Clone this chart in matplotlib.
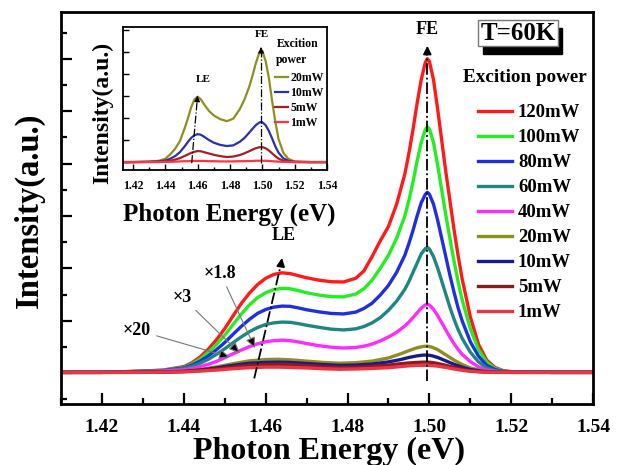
import matplotlib
matplotlib.use('Agg')
import matplotlib.pyplot as plt
from matplotlib.patches import Rectangle
from matplotlib.ticker import MultipleLocator, FormatStrFormatter

plt.rcParams['font.family'] = ['Liberation Serif', 'DejaVu Serif']
plt.rcParams['font.weight'] = 'bold'

# ---- main spectra (T = 60K), intensity in arbitrary units ----
# high power curves, finer energy grid
energy_hi = [1.410, 1.420, 1.430, 1.435, 1.440, 1.442, 1.444, 1.446, 1.448, 1.450,
             1.452, 1.454, 1.456, 1.458, 1.460, 1.462, 1.464, 1.466, 1.468, 1.470,
             1.473, 1.476, 1.479, 1.482, 1.484, 1.486, 1.488, 1.490, 1.492, 1.494,
             1.495, 1.496, 1.497, 1.498, 1.499, 1.4995, 1.500, 1.501, 1.502, 1.503,
             1.504, 1.505, 1.506, 1.507, 1.508, 1.510, 1.512, 1.514, 1.516, 1.518,
             1.520, 1.525, 1.530, 1.540]
p120 = [0.03, 0.03, 0.08, 0.12, 0.25, 0.40, 0.62, 0.92, 1.28, 1.70,
        2.18, 2.65, 3.05, 3.38, 3.62, 3.77, 3.83, 3.80, 3.72, 3.64,
        3.55, 3.49, 3.48, 3.62, 3.90, 4.45, 5.05, 5.60, 6.45, 7.60,
        8.40, 9.30, 10.30, 11.20, 11.85, 12.00, 11.90, 11.20, 10.10, 8.90,
        7.70, 6.60, 5.50, 4.50, 3.60, 2.15, 1.10, 0.50, 0.22, 0.10,
        0.06, 0.04, 0.03, 0.03]
p100 = [0.03, 0.03, 0.08, 0.11, 0.22, 0.35, 0.54, 0.80, 1.10, 1.45,
        1.85, 2.25, 2.60, 2.88, 3.07, 3.19, 3.24, 3.22, 3.15, 3.07,
        2.98, 2.92, 2.91, 3.02, 3.22, 3.55, 4.00, 4.50, 5.15, 6.00,
        6.60, 7.30, 8.10, 8.80, 9.30, 9.40, 9.32, 8.80, 7.95, 7.00,
        6.05, 5.15, 4.30, 3.50, 2.80, 1.70, 0.90, 0.42, 0.18, 0.09,
        0.05, 0.04, 0.03, 0.03]
p80 = [0.03, 0.03, 0.07, 0.10, 0.20, 0.31, 0.46, 0.66, 0.90, 1.17,
       1.48, 1.78, 2.05, 2.28, 2.43, 2.52, 2.56, 2.55, 2.49, 2.42,
       2.34, 2.28, 2.26, 2.33, 2.47, 2.67, 2.98, 3.35, 3.85, 4.50,
       4.95, 5.45, 6.00, 6.50, 6.82, 6.90, 6.83, 6.45, 5.85, 5.15,
       4.45, 3.75, 3.10, 2.50, 2.00, 1.20, 0.65, 0.30, 0.14, 0.07,
       0.05, 0.04, 0.03, 0.03]
p60 = [0.03, 0.03, 0.07, 0.09, 0.17, 0.26, 0.38, 0.53, 0.72, 0.93,
       1.16, 1.38, 1.58, 1.74, 1.86, 1.92, 1.95, 1.94, 1.89, 1.83,
       1.75, 1.68, 1.65, 1.69, 1.78, 1.92, 2.12, 2.40, 2.75, 3.20,
       3.50, 3.85, 4.20, 4.55, 4.75, 4.80, 4.74, 4.45, 4.02, 3.52,
       3.02, 2.52, 2.07, 1.67, 1.33, 0.80, 0.43, 0.20, 0.10, 0.06,
       0.04, 0.04, 0.03, 0.03]
p40 = [0.03, 0.03, 0.06, 0.08, 0.13, 0.18, 0.25, 0.34, 0.45, 0.59,
       0.74, 0.88, 1.01, 1.12, 1.20, 1.24, 1.26, 1.24, 1.19, 1.13,
       1.05, 0.99, 0.96, 0.98, 1.03, 1.11, 1.23, 1.38, 1.56, 1.80,
       1.95, 2.12, 2.30, 2.48, 2.60, 2.63, 2.60, 2.44, 2.20, 1.93,
       1.65, 1.38, 1.13, 0.91, 0.72, 0.44, 0.24, 0.12, 0.07, 0.05,
       0.04, 0.03, 0.03, 0.03]

# low power curves
energy_lo = [1.410, 1.420, 1.430, 1.435, 1.440, 1.444, 1.448, 1.452, 1.456, 1.460,
             1.463, 1.466, 1.470, 1.474, 1.478, 1.482, 1.486, 1.490, 1.493, 1.495,
             1.497, 1.4985, 1.4995, 1.5005, 1.502, 1.504, 1.506, 1.508, 1.510, 1.513,
             1.516, 1.520, 1.525, 1.530, 1.540]
p20 = [0.03, 0.03, 0.04, 0.05, 0.08, 0.14, 0.24, 0.36, 0.47, 0.52,
       0.53, 0.51, 0.46, 0.41, 0.38, 0.40, 0.46, 0.58, 0.74, 0.86,
       0.97, 1.02, 1.03, 1.00, 0.90, 0.70, 0.50, 0.33, 0.20, 0.09,
       0.05, 0.03, 0.03, 0.03, 0.03]
p10 = [0.03, 0.03, 0.04, 0.05, 0.07, 0.12, 0.20, 0.30, 0.38, 0.41,
       0.42, 0.41, 0.37, 0.33, 0.30, 0.31, 0.35, 0.43, 0.52, 0.60,
       0.66, 0.69, 0.69, 0.67, 0.60, 0.47, 0.34, 0.23, 0.14, 0.07,
       0.04, 0.03, 0.03, 0.03, 0.03]
p5 = [0.03, 0.03, 0.03, 0.04, 0.06, 0.10, 0.16, 0.24, 0.30, 0.33,
      0.34, 0.33, 0.29, 0.25, 0.22, 0.23, 0.26, 0.31, 0.36, 0.39,
      0.41, 0.42, 0.42, 0.41, 0.37, 0.30, 0.22, 0.15, 0.09, 0.05,
      0.03, 0.03, 0.03, 0.03, 0.03]
p1 = [0.03, 0.03, 0.03, 0.04, 0.05, 0.08, 0.12, 0.17, 0.21, 0.23,
      0.23, 0.22, 0.20, 0.17, 0.15, 0.16, 0.18, 0.21, 0.25, 0.28,
      0.30, 0.30, 0.30, 0.29, 0.27, 0.22, 0.16, 0.11, 0.07, 0.04,
      0.03, 0.03, 0.03, 0.03, 0.03]

labels = ['120mW', '100mW', '80mW', '60mW', '40mW', '20mW', '10mW', '5mW', '1mW']
colors = ['#ff1a1a', '#22ee22', '#1f2fe0', '#1e8585', '#ff2aff',
          '#8f8f1e', '#1a1a90', '#8b1a1a', '#ee3344']
series = [(energy_hi, p120), (energy_hi, p100), (energy_hi, p80), (energy_hi, p60),
          (energy_hi, p40), (energy_lo, p20), (energy_lo, p10), (energy_lo, p5),
          (energy_lo, p1)]

# ---- inset: low power spectra ----
energy_in = [1.414, 1.420, 1.430, 1.436, 1.440, 1.443, 1.446, 1.449, 1.452, 1.454,
             1.456, 1.458, 1.460, 1.462, 1.464, 1.467, 1.470, 1.474, 1.478, 1.482,
             1.486, 1.489, 1.492, 1.494, 1.496, 1.498, 1.499, 1.500, 1.502, 1.504,
             1.506, 1.508, 1.510, 1.513, 1.516, 1.520, 1.530, 1.540]
in20 = [0, 0, 0.02, 0.06, 0.15, 0.35, 0.60, 0.95, 1.55, 2.00,
        2.50, 2.85, 2.97, 2.85, 2.62, 2.32, 2.12, 1.95, 1.86, 1.97,
        2.40, 2.85, 3.45, 3.95, 4.50, 4.95, 5.07, 5.05, 4.60, 3.85,
        2.80, 1.85, 1.05, 0.42, 0.15, 0.03, 0, 0]
in10 = [0, 0, 0.01, 0.03, 0.07, 0.15, 0.27, 0.45, 0.72, 0.92,
        1.10, 1.22, 1.27, 1.24, 1.15, 1.00, 0.88, 0.78, 0.73, 0.76,
        0.92, 1.10, 1.35, 1.52, 1.68, 1.79, 1.82, 1.81, 1.68, 1.42,
        1.08, 0.72, 0.43, 0.17, 0.06, 0.01, 0, 0]
in5 = [0, 0, 0.01, 0.01, 0.03, 0.06, 0.11, 0.18, 0.28, 0.35,
       0.42, 0.47, 0.50, 0.49, 0.45, 0.39, 0.33, 0.27, 0.23, 0.25,
       0.32, 0.40, 0.50, 0.57, 0.63, 0.67, 0.68, 0.68, 0.63, 0.53,
       0.40, 0.27, 0.16, 0.06, 0.02, 0, 0, 0]
in1 = [0, 0, 0, 0, 0.01, 0.01, 0.02, 0.03, 0.04, 0.04,
       0.05, 0.05, 0.05, 0.05, 0.05, 0.04, 0.04, 0.03, 0.03, 0.03,
       0.04, 0.04, 0.05, 0.05, 0.06, 0.06, 0.06, 0.06, 0.06, 0.05,
       0.04, 0.03, 0.02, 0.01, 0.01, 0, 0, 0]
labels_in = ['20mW', '10mW', '5mW', '1mW']
colors_in = ['#8f8f1e', '#2a30b0', '#a02222', '#ff3344']
series_in = [in20, in10, in5, in1]


def px(x, y):
    # figure pixel (from top-left) -> figure fraction
    return x / 623, 1 - y / 465


fig = plt.figure(figsize=(6.23, 4.65), dpi=100)
ax = fig.add_axes([0.098, 0.131, 0.854, 0.843])

for (e, y), c, lab in zip(series, colors, labels):
    ax.plot(e, y, color=c, lw=2.4, label=lab)

ax.set_xlim(1.41, 1.54)
ax.set_ylim(-1.18, 13.78)
ax.xaxis.set_major_locator(MultipleLocator(0.02))
ax.xaxis.set_minor_locator(MultipleLocator(0.01))
ax.yaxis.set_major_locator(MultipleLocator(2))
ax.yaxis.set_minor_locator(MultipleLocator(1))
ax.xaxis.set_major_formatter(FormatStrFormatter('%.2f'))
ax.set_yticklabels([])
ax.tick_params(which='both', direction='in', width=1.6, top=False, right=False)
ax.tick_params(which='major', length=8, labelsize=14, pad=11)
ax.tick_params(which='minor', length=4)
for s in ax.spines.values():
    s.set_linewidth(2)

ax.set_xlabel('Photon Energy (eV)', fontsize=23, fontweight='bold')
ax.set_ylabel('Intensity(a.u.)', fontsize=23.5, fontweight='bold')
ax.xaxis.set_label_coords(0.504, -0.084)
ax.yaxis.set_label_coords(-0.03, 0.495)

# FE and LE guide arrows
ax.plot([1.4995, 1.4995], [-0.3, 12.3], color='k', lw=1.3, ls='-.')
ax.annotate('', xy=(1.4995, 12.6), xytext=(1.4995, 12.1),
            arrowprops=dict(arrowstyle='-|>', color='k', lw=1.3, mutation_scale=12))
ax.text(1.4995, 13.1, 'FE', ha='center', va='center', fontsize=13)
ax.plot([1.4572, 1.4638], [-0.2, 4.2], color='k', lw=1.3, ls='-.')
ax.annotate('', xy=(1.4641, 4.5), xytext=(1.4636, 4.0),
            arrowprops=dict(arrowstyle='-|>', color='k', lw=1.3, mutation_scale=12))
ax.text(1.4645, 5.25, 'LE', ha='center', va='center', fontsize=13)

# scale factor notes
for txt, xt, xe in [('×1.8', (1.4489, 3.82), (1.4574, 0.95)),
                    ('×3', (1.4396, 2.90), (1.4537, 0.76)),
                    ('×20', (1.4286, 1.64), (1.4513, 0.61))]:
    ax.annotate(txt, xy=xe, xytext=xt, ha='center', va='center', fontsize=13,
                arrowprops=dict(arrowstyle='-|>,head_length=0.5,head_width=0.22',
                                edgecolor='#777777', facecolor='k', lw=0.8,
                                shrinkA=2, shrinkB=0))

# legend
ax.legend(loc='upper left', bbox_to_anchor=(0.784, 0.765), frameon=False,
          fontsize=13.5, handlelength=1.8, handletextpad=0.32, labelspacing=0.42,
          borderaxespad=0, borderpad=0)
fig.text(*px(525, 77), 'Excition power', ha='center', va='center', fontsize=13.8)

# T=60K box with shadow
x0, y0 = px(483, 54)
x1, y1 = px(562, 28)
fig.patches.append(Rectangle((x0, y0), x1 - x0, y1 - y0, transform=fig.transFigure,
                             fc='k', ec='k', zorder=5))
x0, y0 = px(478, 46)
x1, y1 = px(558, 20)
fig.patches.append(Rectangle((x0, y0), x1 - x0, y1 - y0, transform=fig.transFigure,
                             fc='white', ec='#777777', lw=1, zorder=6))
fig.text(*px(518, 33.5), 'T=60K', ha='center', va='center', fontsize=18, zorder=7)

# ---- inset ----
axi = fig.add_axes([123 / 623, 1 - 170 / 465, 204 / 623, 143 / 465])
for y, c, lab in zip(series_in, colors_in, labels_in):
    axi.plot(energy_in, y, color=c, lw=1.6, label=lab)
axi.set_xlim(1.4138, 1.54)
axi.set_ylim(-0.36, 6.14)
axi.xaxis.set_major_locator(MultipleLocator(0.02))
axi.xaxis.set_minor_locator(MultipleLocator(0.01))
axi.yaxis.set_major_locator(MultipleLocator(1))
axi.xaxis.set_major_formatter(FormatStrFormatter('%.2f'))
axi.set_yticklabels([])
axi.tick_params(which='both', direction='in', width=1, top=False, right=False)
axi.tick_params(which='major', length=4, labelsize=8.5, pad=7.5)
axi.tick_params(which='minor', length=2)
for s in axi.spines.values():
    s.set_linewidth(1.3)
axi.set_xlabel('Photon Energy (eV)', fontsize=18, fontweight='bold')
axi.set_ylabel('Intensity(a.u.)', fontsize=17, fontweight='bold')
axi.xaxis.set_label_coords(0.523, -0.225)
axi.yaxis.set_label_coords(-0.05, 0.40)

axi.plot([1.4992, 1.4992], [-0.05, 5.1], color='k', lw=0.9, ls='-.')
axi.annotate('', xy=(1.4992, 5.35), xytext=(1.4992, 5.0),
             arrowprops=dict(arrowstyle='-|>', color='k', lw=0.9, mutation_scale=8))
axi.text(1.4995, 5.8, 'FE', ha='center', va='center', fontsize=8)
axi.plot([1.4563, 1.4598], [-0.05, 2.9], color='k', lw=0.9, ls='-.')
axi.annotate('', xy=(1.4600, 3.14), xytext=(1.4597, 2.8),
             arrowprops=dict(arrowstyle='-|>', color='k', lw=0.9, mutation_scale=8))
axi.text(1.4635, 3.77, 'LE', ha='center', va='center', fontsize=8)

axi.legend(loc='upper left', bbox_to_anchor=(0.745, 0.685), frameon=False,
           fontsize=8.5, handlelength=1.1, handletextpad=0.2, labelspacing=0.26,
           borderaxespad=0, borderpad=0)
axi.text(0.755, 0.88, 'Excition', transform=axi.transAxes, ha='left', va='center', fontsize=8.5)
axi.text(0.75, 0.77, 'power', transform=axi.transAxes, ha='left', va='center', fontsize=8.5)

plt.savefig('out.png', dpi=100)
